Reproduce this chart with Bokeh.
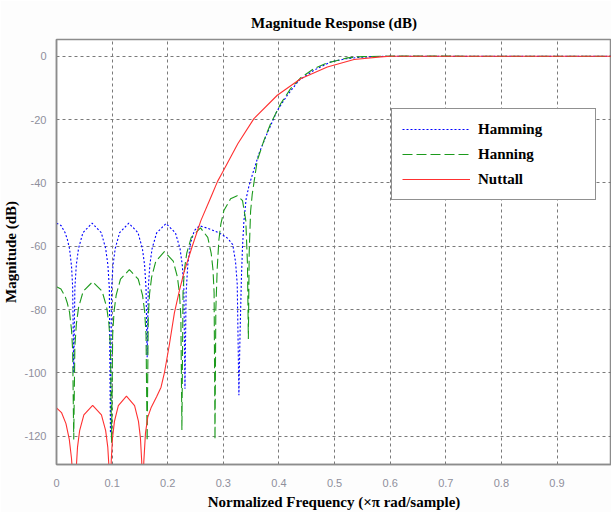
from bokeh.plotting import figure
from bokeh.models import FixedTicker, Legend, LegendItem
from bokeh.embed import file_html
from bokeh.resources import INLINE

# ---- data (normalized frequency, magnitude dB) ----
ham_f = [0.000, 0.008, 0.0155, 0.0194, 0.0234, 0.0270, 0.0290, 0.031,
         0.033, 0.0356, 0.0396, 0.0475, 0.064, 0.0805, 0.0884, 0.0924, 0.095, 0.097,
         0.099, 0.1016, 0.1056, 0.1135, 0.130, 0.1465, 0.1544, 0.1584, 0.161, 0.163,
         0.165, 0.1678, 0.1718, 0.180, 0.197, 0.214, 0.2222, 0.2262, 0.229, 0.231,
         0.233, 0.236, 0.241, 0.248, 0.257, 0.270, 0.285, 0.296, 0.308, 0.317, 0.322, 0.325, 0.328,
         0.330, 0.3325, 0.3345, 0.337, 0.341, 0.346, 0.352, 0.364, 0.376, 0.397, 0.415, 0.436,
         0.463, 0.493, 0.520, 0.541, 0.570, 0.600, 1.0]
ham_db = [-52.7, -53.4, -55.7, -57.8, -60.7, -66.3, -72.6, -100,
          -73.2, -65.9, -60.7, -55.7, -52.7, -55.7, -60.7, -65.9, -73.2, -119,
          -73.2, -65.9, -60.7, -55.7, -52.7, -55.7, -60.7, -65.9, -73.2, -95,
          -73.3, -66.0, -60.8, -55.8, -52.8, -55.8, -60.8, -66.0, -73.3, -105,
          -75, -66, -59, -55, -53.5, -54.2, -55.2, -56.1, -57.5, -59.5, -65, -72, -107,
          -88, -70, -60, -52, -45, -41, -37.5, -30.8, -25.5, -17.1, -12.3, -7.6,
          -4.4, -1.8, -0.8, -0.4, -0.1, 0.0, 0.0]

han_f = [0.000, 0.008, 0.0155, 0.0194, 0.0234, 0.0270, 0.0290, 0.031,
         0.033, 0.0358, 0.0398, 0.048, 0.065, 0.082, 0.0902, 0.0942, 0.097, 0.099,
         0.101, 0.1035, 0.1073, 0.115, 0.131, 0.147, 0.1547, 0.1585, 0.161, 0.163,
         0.165, 0.1674, 0.1711, 0.1786, 0.194, 0.2099, 0.2174, 0.2211, 0.2236, 0.2255,
         0.2275, 0.230, 0.2342, 0.2423, 0.259, 0.272, 0.2782, 0.2814, 0.2834, 0.285,
         0.2865, 0.289, 0.292, 0.2955, 0.301, 0.313, 0.325, 0.3345, 0.3404, 0.3434, 0.345,
         0.3465, 0.349, 0.352, 0.361, 0.373, 0.385, 0.403, 0.421, 0.439, 0.463, 0.487,
         0.523, 0.550, 0.600, 1.0]
han_db = [-72.8, -73.5, -75.8, -77.9, -80.8, -86.4, -92.7, -121,
          -91.7, -84.4, -79.2, -74.2, -71.2, -74.2, -79.2, -84.4, -91.7, -122,
          -87.9, -80.6, -75.4, -70.4, -67.4, -70.4, -75.4, -80.6, -87.9, -121.5,
          -82.2, -74.9, -69.7, -64.7, -61.7, -64.7, -69.7, -74.9, -82.2, -118,
          -74.7, -67.4, -62.2, -57.2, -54.2, -57.2, -62.2, -67.4, -74.7, -121,
          -80, -67, -58, -53, -48.7, -45, -44, -45.6, -51.9, -65.6, -89.3,
          -62, -49, -43.5, -32.9, -26.6, -21.3, -15, -10.2, -6.8, -3.9, -2.1,
          -0.5, -0.1, 0.05, 0.0]

nut_f = [0.000, 0.009, 0.017, 0.023, 0.027, 0.030, 0.0334,
         0.0353, 0.0378, 0.0416, 0.0492, 0.065, 0.0808, 0.0884, 0.0922, 0.0947, 0.0966,
         0.0984, 0.1007, 0.1042, 0.1112, 0.1258, 0.1404, 0.1474, 0.1509, 0.1532, 0.155,
         0.157, 0.160, 0.164, 0.170, 0.180, 0.188, 0.194, 0.203, 0.212, 0.221, 0.2296,
         0.245, 0.2596, 0.2776, 0.2896, 0.2986, 0.326, 0.355, 0.397, 0.439, 0.487,
         0.535, 0.583, 0.600, 1.0]
nut_db = [-111, -112.5, -116, -121, -127, -135, -145,
          -130.7, -123.4, -118.2, -113.2, -110.2, -113.2, -118.2, -123.4, -130.7, -145,
          -127.8, -120.5, -115.3, -110.3, -107.3, -110.3, -115.3, -120.5, -127.8, -145,
          -128, -119, -114, -111, -107.5, -104.5, -100, -91, -81, -74, -68,
          -59.5, -51.9, -44.5, -39.5, -36.6, -27.6, -19.7, -12.3, -7.1, -3.4,
          -1.0, -0.2, 0.0, 0.0]

series_names = ["Hamming", "Hanning", "Nuttall"]
x_ticks = [0, 0.1, 0.2, 0.3, 0.4, 0.5, 0.6, 0.7, 0.8, 0.9]
x_tick_labels = ["0", "0.1", "0.2", "0.3", "0.4", "0.5", "0.6", "0.7", "0.8", "0.9"]
y_ticks = [0, -20, -40, -60, -80, -100, -120]
y_tick_labels = ["0", "-20", "-40", "-60", "-80", "-100", "-120"]

SERIF = "Liberation Serif"

p = figure(width=611, height=512, x_range=(0, 0.998), y_range=(-128.9, 5.3),
           output_backend="svg", toolbar_location=None,
           min_border_left=55, min_border_right=0, min_border_top=39, min_border_bottom=48)

p.background_fill_color = "white"
p.border_fill_color = "#fdfdfd"
p.outline_line_color = "#8c8c8c"
p.outline_line_width = 1.5

p.title.text = "Magnitude Response (dB)"
p.title.align = "center"
p.title.text_font = SERIF
p.title.text_font_style = "bold"
p.title.text_font_size = "15px"
p.title.text_color = "black"
p.title.standoff = 18

for ax in (p.xaxis[0], p.yaxis[0]):
    ax.axis_line_color = "#8c8c8c"
    ax.axis_line_width = 1.5
    ax.major_tick_line_color = None
    ax.minor_tick_line_color = None
    ax.major_label_text_font = "Liberation Sans"
    ax.major_label_text_font_size = "11px"
    ax.major_label_text_color = "#8f8f9c"
    ax.axis_label_text_font = SERIF
    ax.axis_label_text_font_style = "bold"
    ax.axis_label_text_font_size = "15px"
    ax.axis_label_text_color = "black"

p.xaxis.ticker = FixedTicker(ticks=x_ticks)
p.yaxis.ticker = FixedTicker(ticks=y_ticks)
p.xaxis.major_label_overrides = dict(zip(x_ticks, x_tick_labels))
p.yaxis.major_label_overrides = dict(zip(y_ticks, y_tick_labels))
p.xaxis.axis_label = "Normalized Frequency (\u00d7\u03c0 rad/sample)"
p.yaxis.axis_label = "Magnitude (dB)"
p.xaxis.major_label_standoff = 8
p.yaxis.major_label_standoff = 4
p.xaxis.axis_label_standoff = 4
p.yaxis.axis_label_standoff = 2

for g in (p.xgrid, p.ygrid):
    g.grid_line_color = "#7a7a7a"
    g.grid_line_dash = "3 3"
    g.grid_line_width = 1

r_ham = p.line(ham_f, ham_db, line_color="#0000ff", line_width=1.1, line_dash="2 2")
r_han = p.line(han_f, han_db, line_color="#1c9a1c", line_width=1.1, line_dash="10 4")
r_nut = p.line(nut_f, nut_db, line_color="#ff3030", line_width=1.1)

legend = Legend(items=[LegendItem(label=series_names[0], renderers=[r_ham]),
                       LegendItem(label=series_names[1], renderers=[r_han]),
                       LegendItem(label=series_names[2], renderers=[r_nut])],
                location=(335, 264))
legend.label_text_font = SERIF
legend.label_text_font_style = "bold"
legend.label_text_font_size = "15px"
legend.label_text_color = "black"
legend.glyph_width = 68
legend.glyph_height = 20
legend.label_height = 20
legend.label_width = 107
legend.label_standoff = 8
legend.spacing = 5
legend.padding = 10
legend.margin = 0
legend.border_line_color = "#222222"
legend.border_line_width = 1.5
legend.background_fill_color = "white"
legend.background_fill_alpha = 1.0
p.add_layout(legend, "center")

open("out.html", "w").write(file_html(p, INLINE))
